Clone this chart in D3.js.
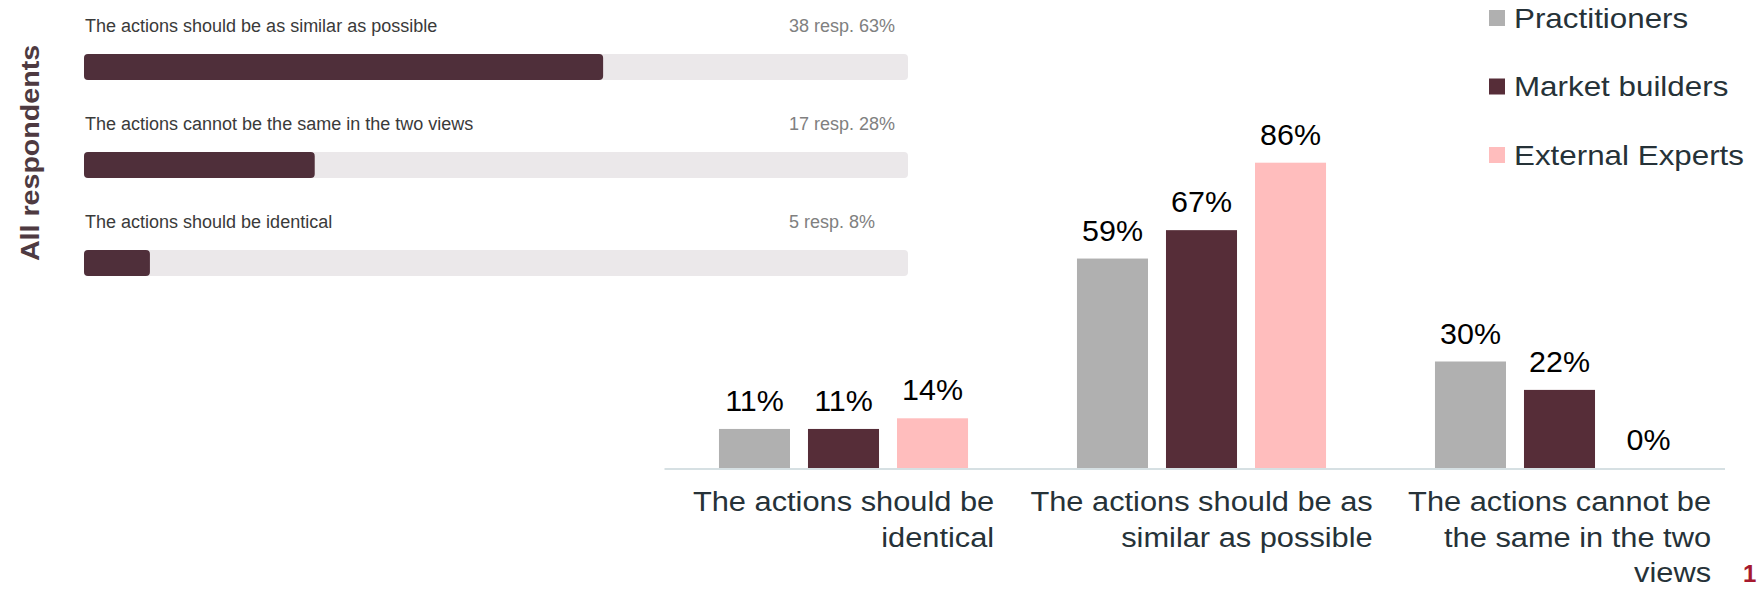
<!DOCTYPE html>
<html>
<head>
<meta charset="utf-8">
<script src="https://cdn.jsdelivr.net/npm/d3@7"></script>
<style>
  html, body { margin: 0; padding: 0; background: #fff; }
  svg { display: block; font-family: "Liberation Sans", Arial, sans-serif; }
</style>
</head>
<body>
<svg id="chart" width="1758" height="589"></svg>
<script>
// ---- Survey overview (all respondents) ----
const overallAnswers = [
  "The actions should be as similar as possible",
  "The actions cannot be the same in the two views",
  "The actions should be identical"
];
const overallCounts = [38, 17, 5];
const overallPercents = [63, 28, 8];

// ---- Breakdown by respondent group ----
const groupCategories = ["identical", "similar", "different"];
const groupCategoryLines = [
  ["The actions should be", "identical"],
  ["The actions should be as", "similar as possible"],
  ["The actions cannot be", "the same in the two", "views"]
];
const seriesNames = ["Practitioners", "Market builders", "External Experts"];
const practitionersValues = [11, 59, 30];
const marketBuildersValues = [11, 67, 22];
const externalExpertsValues = [14, 86, 0];
const seriesColors = ["#b0b0b0", "#562d38", "#ffbdbd"];

const svg = d3.select("#chart");

// Text helper: places text with a horizontal stretch factor
function stretchedText(sel, x, y, sx) {
  return sel.attr("x", 0).attr("y", 0)
    .attr("transform", `translate(${x},${y}) scale(${sx},1)`);
}

// ================= Left panel =================
const left = svg.append("g");

left.append("text")
  .attr("transform", "translate(39,153) rotate(-90) scale(1.1,1)")
  .attr("text-anchor", "middle")
  .attr("font-size", 26)
  .attr("font-weight", "bold")
  .attr("fill", "#4e3a41")
  .text("All respondents");

const xOverall = d3.scaleLinear().domain([0, 100]).range([84, 908]);
const yOverall = d3.scaleBand().domain(overallAnswers).range([54, 348]).paddingInner(0);
const trackH = 26;

const rows = left.selectAll("g.row")
  .data(overallAnswers.map((a, i) => ({ answer: a, count: overallCounts[i], pct: overallPercents[i] })))
  .join("g").attr("class", "row");

rows.append("rect")
  .attr("x", xOverall(0))
  .attr("y", d => yOverall(d.answer))
  .attr("width", xOverall(100) - xOverall(0))
  .attr("height", trackH)
  .attr("rx", 4)
  .attr("fill", "#ebe8ea");

rows.append("rect")
  .attr("x", xOverall(0))
  .attr("y", d => yOverall(d.answer))
  .attr("width", d => xOverall(d.pct) - xOverall(0))
  .attr("height", trackH)
  .attr("rx", 4)
  .attr("fill", "#4f2f3a");

rows.append("text")
  .attr("x", xOverall(0) + 1)
  .attr("y", d => yOverall(d.answer) - 22)
  .attr("font-size", 18)
  .attr("fill", "#3a3a3a")
  .text(d => d.answer);

rows.append("text")
  .attr("x", 789)
  .attr("y", d => yOverall(d.answer) - 22)
  .attr("font-size", 18)
  .attr("fill", "#808080")
  .text(d => `${d.count} resp. ${d.pct}%`);

// ================= Right panel: grouped bars =================
const right = svg.append("g");

const x0 = d3.scaleBand().domain(groupCategories).range([664.5, 1738.5]).padding(0);
const x1 = d3.scaleBand().domain(seriesNames).range([0, x0.bandwidth()])
  .paddingInner(0.202).paddingOuter(0.612);
const y = d3.scaleLinear().domain([0, 100]).range([468, 113]);

const seriesValues = [practitionersValues, marketBuildersValues, externalExpertsValues];
const color = d3.scaleOrdinal().domain(seriesNames).range(seriesColors);

const groups = right.selectAll("g.grp")
  .data(groupCategories.map((c, ci) => ({
    cat: c,
    vals: seriesNames.map((s, si) => ({ series: s, value: seriesValues[si][ci] }))
  })))
  .join("g").attr("class", "grp")
  .attr("transform", d => `translate(${x0(d.cat)},0)`);

groups.selectAll("rect")
  .data(d => d.vals)
  .join("rect")
  .attr("x", d => x1(d.series))
  .attr("y", d => y(d.value))
  .attr("width", x1.bandwidth())
  .attr("height", d => y(0) - y(d.value))
  .attr("fill", d => color(d.series));

groups.selectAll("text.val")
  .data(d => d.vals)
  .join("text").attr("class", "val")
  .each(function (d) {
    stretchedText(d3.select(this), x1(d.series) + x1.bandwidth() / 2, y(d.value) - 18, 1.05);
  })
  .attr("text-anchor", "middle")
  .attr("font-size", 29)
  .attr("fill", "#000")
  .text(d => `${d.value}%`);

// baseline under the bars
right.append("line")
  .attr("x1", x0.range()[0]).attr("x2", 1725)
  .attr("y1", y(0) + 1).attr("y2", y(0) + 1)
  .attr("stroke", "#d6e0e3").attr("stroke-width", 2);

// category labels: widest line centred on the group, other lines right-aligned to it
const catScale = 1.1;
groupCategories.forEach((c, ci) => {
  const lines = groupCategoryLines[ci];
  const g = right.append("g");
  const widths = lines.map(l => {
    const t = g.append("text").attr("font-size", 28).text(l);
    const w = t.node().getComputedTextLength() * catScale;
    t.remove();
    return w;
  });
  const maxW = d3.max(widths);
  const cx = x0(c) + x0.bandwidth() / 2;
  const rightEdge = cx + maxW / 2;
  lines.forEach((l, li) => {
    const t = g.append("text")
      .attr("text-anchor", "end")
      .attr("font-size", 28)
      .attr("fill", "#263238")
      .text(l);
    stretchedText(t, rightEdge, 511 + li * 35.5, catScale);
  });
});

// legend
const legend = right.append("g");
const legendY = d3.scalePoint().domain(seriesNames).range([10, 147]);
seriesNames.forEach(s => {
  legend.append("rect")
    .attr("x", 1489).attr("y", legendY(s))
    .attr("width", 16).attr("height", 16)
    .attr("fill", color(s));
  const t = legend.append("text")
    .attr("font-size", 28)
    .attr("fill", "#263238")
    .text(s);
  stretchedText(t, 1514, legendY(s) + 17.5, 1.12);
});

// page number
svg.append("text")
  .attr("x", 1743).attr("y", 582)
  .attr("font-size", 24)
  .attr("font-weight", "bold")
  .attr("fill", "#a6192e")
  .text("1");
</script>
</body>
</html>
